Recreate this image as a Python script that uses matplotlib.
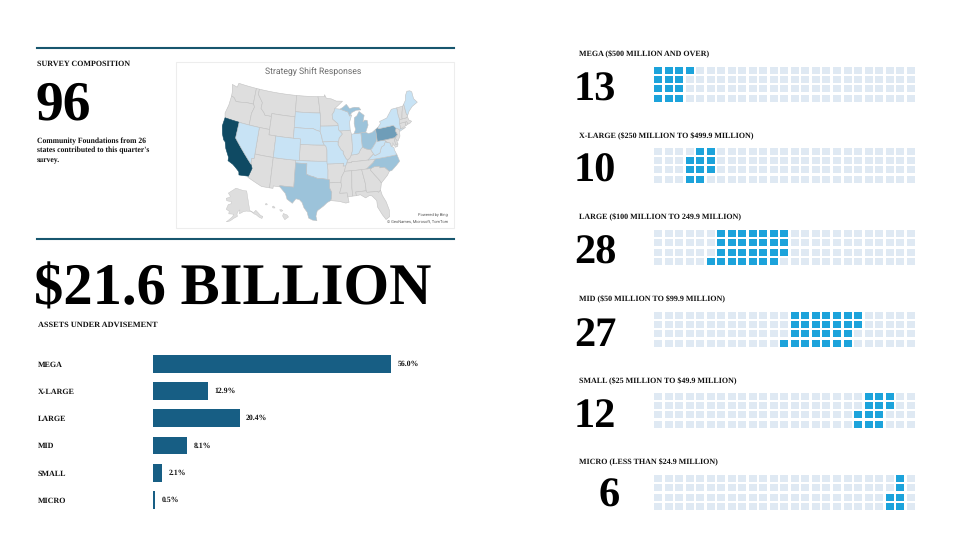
import numpy as np
import matplotlib
matplotlib.use("Agg")
import matplotlib.pyplot as plt
from matplotlib.patches import Rectangle, Polygon

plt.rcParams['font.family'] = ['Liberation Serif', 'DejaVu Serif']
plt.rcParams['text.hinting'] = 'no_hinting'

# ---- data ----
size_names = ["MEGA", "X-LARGE", "LARGE", "MID", "SMALL", "MICRO"]
asset_share = [56.0, 12.9, 20.4, 8.1, 2.1, 0.5]
asset_labels = ["56.0%", "12.9%", "20.4%", "8.1%", "2.1%", "0.5%"]
foundation_counts = [13, 10, 28, 27, 12, 6]
waffle_headings = [
    "MEGA ($500 MILLION AND OVER)",
    "X-LARGE ($250 MILLION TO $499.9 MILLION)",
    "LARGE ($100 MILLION TO 249.9 MILLION)",
    "MID ($50 MILLION TO $99.9 MILLION)",
    "SMALL ($25 MILLION TO $49.9 MILLION)",
    "MICRO (LESS THAN $24.9 MILLION)",
]
tier_dark = ["CA"]
tier_mid = ["PA"]
tier_light = ["TX", "OH", "MI", "MI2", "NC"]
tier_pale = ["NV", "CO", "SD", "NE", "IA", "MO", "OK", "WI", "IN", "NY", "ME", "VA", "WV"]

# State outlines as (lon, lat) vertices
states = {
"WA": [(-124.7,48.4),(-123,48.2),(-122.8,49),(-117.03,49),(-117.04,46.4),(-116.92,46),(-119,45.93),(-121.2,45.65),(-122.3,45.55),(-123.2,46.15),(-124,46.27),(-124.1,47)],
"OR": [(-124,46.27),(-123.2,46.15),(-122.3,45.55),(-121.2,45.65),(-119,45.93),(-116.92,46),(-116.5,45.5),(-117.03,44.2),(-117.03,42),(-124.2,42),(-124.55,42.85),(-124.1,44.5)],
"CA": [(-124.2,42),(-120,42),(-120,39),(-114.63,35),(-114.14,34.3),(-114.72,32.72),(-117.12,32.53),(-117.3,33.1),(-118.4,33.75),(-119.2,34.15),(-120.6,34.55),(-120.65,35.15),(-121.9,36.6),(-122.5,37.75),(-123,38),(-123.75,39),(-124.35,40.4)],
"NV": [(-120,42),(-114.04,42),(-114.04,36.2),(-114.7,36.1),(-114.63,35),(-120,39)],
"ID": [(-117.03,49),(-116.05,49),(-116.05,48),(-114.4,46.65),(-114.5,45.55),(-113.45,44.9),(-113,44.45),(-111.05,44.48),(-111.05,42),(-117.03,42),(-117.03,44.2),(-116.5,45.5),(-116.92,46),(-117.04,46.4)],
"MT": [(-116.05,49),(-104.05,49),(-104.05,45),(-111.05,45),(-111.05,44.48),(-113,44.45),(-113.45,44.9),(-114.5,45.55),(-114.4,46.65),(-116.05,48)],
"WY": [(-111.05,45),(-104.05,45),(-104.05,41),(-111.05,41)],
"UT": [(-114.04,42),(-111.05,42),(-111.05,41),(-109.05,41),(-109.05,37),(-114.04,37)],
"AZ": [(-114.04,37),(-109.05,37),(-109.05,31.33),(-111.07,31.33),(-114.81,32.5),(-114.72,32.72),(-114.14,34.3),(-114.63,35),(-114.7,36.1),(-114.04,36.2)],
"CO": [(-109.05,41),(-102.05,41),(-102.05,37),(-109.05,37)],
"NM": [(-109.05,37),(-103,37),(-103.05,32),(-106.62,32),(-106.53,31.78),(-108.2,31.78),(-108.2,31.33),(-109.05,31.33)],
"ND": [(-104.05,49),(-97.23,49),(-96.85,47.5),(-96.56,45.94),(-104.05,45.94)],
"SD": [(-104.05,45.94),(-96.56,45.94),(-96.45,45.3),(-96.45,43.5),(-96.5,42.5),(-97.9,42.8),(-98.5,43),(-104.05,43)],
"NE": [(-104.05,43),(-98.5,43),(-97.9,42.8),(-96.5,42.5),(-96.1,41.7),(-95.85,40.7),(-95.3,40),(-102.05,40),(-102.05,41),(-104.05,41)],
"KS": [(-102.05,40),(-95.3,40),(-94.9,39.8),(-94.6,39.1),(-94.62,37),(-102.05,37)],
"OK": [(-103,37),(-94.62,37),(-94.43,35.4),(-94.48,33.64),(-96,33.8),(-97.2,33.85),(-98.1,34.1),(-99.2,34.3),(-100,34.56),(-100,36.5),(-103,36.5)],
"TX": [(-103,36.5),(-100,36.5),(-100,34.56),(-99.2,34.3),(-98.1,34.1),(-97.2,33.85),(-96,33.8),(-94.48,33.64),(-94.04,33.55),(-94.04,32),(-93.55,31.2),(-93.7,30.1),(-93.85,29.7),(-94.7,29.35),(-95.6,28.7),(-97.1,27.8),(-97.4,26.8),(-97.15,25.95),(-98.2,26.05),(-99.1,26.4),(-99.5,27.5),(-100.3,28.3),(-100.8,29.25),(-101.5,29.77),(-102.35,29.87),(-103.15,28.98),(-104.5,29.65),(-105,30.65),(-106.53,31.78),(-106.62,32),(-103.05,32)],
"MN": [(-97.23,49),(-95.15,49),(-95.15,49.38),(-94.6,48.72),(-93,48.55),(-91.5,48.1),(-89.5,48),(-92.05,46.7),(-92.3,46.1),(-92.9,45.6),(-92.75,44.75),(-91.25,43.85),(-91.22,43.5),(-96.45,43.5),(-96.45,45.3),(-96.56,45.94),(-96.85,47.5)],
"IA": [(-96.45,43.5),(-91.22,43.5),(-91.1,42.7),(-90.15,41.9),(-91.1,41.2),(-91.42,40.38),(-91.75,40.6),(-95.75,40.58),(-96.1,41.7),(-96.5,42.5)],
"MO": [(-95.75,40.58),(-91.75,40.6),(-91.42,40.38),(-91.5,40),(-90.7,39),(-90.15,38.7),(-90.2,38.3),(-89.5,37.3),(-89.1,37),(-89.4,36.5),(-89.7,36),(-90.37,36),(-90.15,36.5),(-94.62,36.5),(-94.62,37),(-94.6,39.1),(-94.9,39.8),(-95.3,40)],
"AR": [(-94.62,36.5),(-90.15,36.5),(-90.37,36),(-89.7,36),(-90.1,35),(-91,33.9),(-91.15,33),(-94.04,33),(-94.04,33.55),(-94.48,33.64),(-94.43,35.4)],
"LA": [(-94.04,33),(-91.15,33),(-91,32.4),(-91.6,31),(-89.75,31),(-89.6,30.2),(-89.4,29.2),(-90.2,29.1),(-91.8,29.5),(-93.85,29.7),(-93.7,30.1),(-93.55,31.2),(-94.04,32)],
"WI": [(-92.05,46.7),(-90.4,46.55),(-88.1,45.9),(-87.6,45.1),(-87,45.3),(-87.8,44),(-87.8,42.5),(-90.65,42.5),(-91.1,42.7),(-91.22,43.5),(-91.25,43.85),(-92.75,44.75),(-92.9,45.6),(-92.3,46.1)],
"IL": [(-90.65,42.5),(-87.8,42.5),(-87.5,41.7),(-87.53,39.35),(-87.6,38.7),(-88,37.9),(-88.4,37.4),(-89.1,37),(-89.5,37.3),(-90.2,38.3),(-90.15,38.7),(-90.7,39),(-91.5,40),(-91.42,40.38),(-91.1,41.2),(-90.15,41.9)],
"IN": [(-87.5,41.7),(-86.8,41.76),(-84.8,41.76),(-84.82,39.1),(-85.4,38.7),(-86,38),(-87,37.9),(-88,37.9),(-87.6,38.7),(-87.53,39.35)],
"MI": [(-86.8,41.76),(-84.8,41.76),(-83.45,41.73),(-83.1,42.2),(-82.5,43),(-82.6,43.9),(-83.3,44),(-83.9,43.7),(-83.3,44.9),(-84.7,45.75),(-85.5,45),(-86.3,44.7),(-86.5,43.6),(-86.25,42.5)],
"MI2": [(-90.4,46.55),(-88.1,45.9),(-87.6,45.1),(-87,45.7),(-85.5,46.05),(-84.1,46),(-84.6,46.5),(-86,46.65),(-87.5,46.5),(-88.4,47.35),(-89.5,46.85)],
"OH": [(-84.8,41.76),(-83.45,41.73),(-82.7,41.45),(-81.7,41.5),(-80.52,41.98),(-80.52,40.64),(-80.85,39.7),(-81.7,39),(-82.2,38.6),(-82.6,38.42),(-83.7,38.65),(-84.82,39.1)],
"KY": [(-89.4,36.5),(-89.1,37),(-88.4,37.4),(-88,37.9),(-87,37.9),(-86,38),(-85.4,38.7),(-84.82,39.1),(-83.7,38.65),(-82.6,38.42),(-82,37.55),(-83.68,36.6),(-88.07,36.65),(-88.07,36.5)],
"TN": [(-90.1,35),(-89.7,36),(-89.4,36.5),(-88.07,36.5),(-88.07,36.65),(-83.68,36.6),(-81.68,36.59),(-82.4,36),(-84.3,35)],
"MS": [(-91.15,33),(-91,33.9),(-90.1,35),(-88.2,35),(-88.47,31.9),(-88.4,30.3),(-89.6,30.2),(-89.75,31),(-91.6,31),(-91,32.4)],
"AL": [(-88.2,35),(-85.6,35),(-85,32.3),(-85,31),(-87.6,31),(-87.5,30.3),(-88.4,30.3),(-88.47,31.9)],
"GA": [(-85.6,35),(-83.1,35),(-83.35,34.7),(-81.4,32.6),(-81,32),(-81.45,30.7),(-82.05,30.36),(-82.2,30.57),(-84.86,30.7),(-85,31),(-85,32.3)],
"FL": [(-87.6,31),(-85,31),(-84.86,30.7),(-82.2,30.57),(-82.05,30.36),(-81.45,30.7),(-81.2,29.7),(-80.5,28.4),(-80.05,26.8),(-80.2,25.5),(-81.1,25.1),(-81.8,26.1),(-82.7,27.7),(-82.7,28.9),(-83.7,29.9),(-84.3,30.05),(-85.3,29.7),(-86.5,30.4),(-87.5,30.3)],
"SC": [(-83.1,35),(-82.3,35.2),(-81,35.15),(-80.8,34.82),(-79.67,34.8),(-78.55,33.86),(-79.2,33.2),(-81,32),(-81.4,32.6),(-83.35,34.7)],
"NC": [(-84.3,35),(-82.4,36),(-81.68,36.59),(-75.87,36.55),(-75.5,35.25),(-76.5,34.65),(-77.9,33.9),(-78.55,33.86),(-79.67,34.8),(-80.8,34.82),(-81,35.15),(-82.3,35.2),(-83.1,35)],
"VA": [(-83.68,36.6),(-81.68,36.59),(-75.87,36.55),(-76.3,37.5),(-76.3,38),(-77,38.3),(-77.05,38.85),(-77.5,39.1),(-77.83,39.13),(-78.35,39.4),(-78.87,38.77),(-79.65,38.55),(-80.3,37.5),(-81.68,37.2),(-82,37.55)],
"WV": [(-82.6,38.42),(-82,37.55),(-81.68,37.2),(-80.3,37.5),(-79.65,38.55),(-78.87,38.77),(-78.35,39.4),(-77.83,39.13),(-78.4,39.6),(-79.48,39.72),(-80.52,39.72),(-80.52,40.64),(-80.85,39.7),(-81.7,39),(-82.2,38.6)],
"MD": [(-79.48,39.72),(-75.79,39.72),(-75.7,38.46),(-75.05,38.45),(-75.25,38.03),(-75.9,37.95),(-76.4,38.9),(-76.45,38.3),(-77,38.3),(-77.05,38.85),(-77.5,39.1),(-77.83,39.13),(-78.4,39.6)],
"DE": [(-75.79,39.72),(-75.4,39.8),(-75.05,38.45),(-75.7,38.46)],
"PA": [(-80.52,41.98),(-79.76,42.27),(-79.76,42),(-75.35,42),(-74.7,41.36),(-75.1,40.95),(-74.72,40.15),(-75.4,39.8),(-75.79,39.72),(-80.52,39.72)],
"NJ": [(-74.7,41.36),(-73.9,41),(-74,40.45),(-74.1,39.75),(-74.9,38.95),(-75.5,39.5),(-74.72,40.15),(-75.1,40.95)],
"NY": [(-79.76,42.27),(-78.9,42.85),(-79.05,43.27),(-76.8,43.63),(-76.2,44.1),(-75,45),(-73.35,45),(-73.4,43.6),(-73.25,42.75),(-73.5,42.05),(-73.5,41.3),(-73.65,41),(-72,41.05),(-73.9,40.6),(-73.9,41),(-74.7,41.36),(-75.35,42),(-79.76,42)],
"CT": [(-73.5,42.05),(-71.8,42.02),(-71.85,41.32),(-73.65,41),(-73.5,41.3)],
"RI": [(-71.8,42.02),(-71.38,42.02),(-71.15,41.5),(-71.85,41.32)],
"MA": [(-73.25,42.75),(-71.3,42.7),(-70.85,42.88),(-70.7,42.2),(-70,41.8),(-70.6,41.55),(-71.15,41.5),(-71.38,42.02),(-71.8,42.02),(-73.5,42.05)],
"VT": [(-73.35,45),(-71.5,45),(-72.05,44),(-72.45,43),(-72.46,42.73),(-73.25,42.75),(-73.4,43.6)],
"NH": [(-71.5,45),(-71.08,45.3),(-70.98,43.4),(-70.7,43.07),(-70.85,42.88),(-71.3,42.7),(-72.46,42.73),(-72.45,43),(-72.05,44)],
"ME": [(-71.08,45.3),(-70.3,45.9),(-70,46.7),(-69.2,47.45),(-68.3,47.35),(-67.8,47.05),(-67.8,45.7),(-67,44.85),(-68.8,44.4),(-70,43.75),(-70.7,43.07),(-70.98,43.4)],
}
alaska = [(-141,69.6),(-141,60.3),(-139.7,59.7),(-137.5,58.9),(-135,59.7),(-133.5,58.4),(-131.8,56.6),(-130,55.9),(-131.5,55.1),(-133.4,56),(-135.5,57.5),(-137.5,58.3),(-140,59.7),(-144.5,60.2),(-147.9,60),(-149.8,59.5),(-151.8,59.2),(-151,61),(-152.9,60.3),(-154,59),(-153.5,57.9),(-156.5,57),(-160,55.5),(-163.3,54.7),(-161,56),(-158,57.7),(-157.2,58.8),(-159.5,58.8),(-162,58.7),(-162,60),(-165.3,60.6),(-164,63),(-161,63.6),(-161,64.6),(-166.5,64.6),(-168,65.6),(-164,66.5),(-163,67),(-166.5,68.3),(-163,69.5),(-156.5,71.3),(-152,70.8),(-146,70.1)]
hawaii = [
    [(-155.9,20.2),(-155.1,19.9),(-154.8,19.5),(-155.6,18.95),(-156.05,19.7)],
    [(-156.7,20.95),(-156.25,20.95),(-156,20.75),(-156.4,20.6)],
    [(-158.25,21.55),(-157.95,21.7),(-157.65,21.3),(-158.1,21.3)],
    [(-159.75,22.1),(-159.4,22.2),(-159.3,21.95),(-159.6,21.9)],
]

# ---- helpers ----
W, H = 960, 540
fig = plt.figure(figsize=(9.6, 5.4), dpi=100, facecolor='white')

def axes_px(x0, y0, x1, y1, **kw):
    return fig.add_axes([x0 / W, 1 - y1 / H, (x1 - x0) / W, (y1 - y0) / H], **kw)

def text_px(x, y, s, **kw):
    kw.setdefault('va', 'center')
    kw.setdefault('fontweight', 'bold')
    kw.setdefault('color', '#111111')
    return fig.text(x / W, 1 - y / H, s, parse_math=False, **kw)

def rule(y):
    fig.add_artist(plt.Line2D([37 / W, 454 / W], [1 - y / H] * 2, color='#17566E', lw=1.5))

def albers(pts, lon0=-96.0, lat0=37.5, p1=29.5, p2=45.5):
    p = np.asarray(pts, float)
    lon = np.radians(p[:, 0]); lat = np.radians(p[:, 1])
    l0, f0, f1, f2 = map(np.radians, (lon0, lat0, p1, p2))
    n = (np.sin(f1) + np.sin(f2)) / 2
    c = np.cos(f1) ** 2 + 2 * n * np.sin(f1)
    rho = np.sqrt(c - 2 * n * np.sin(lat)) / n
    rho0 = np.sqrt(c - 2 * n * np.sin(f0)) / n
    th = n * (lon - l0)
    return np.column_stack([rho * np.sin(th), rho0 - rho * np.cos(th)])

def densify(pts):
    out = []
    closed = list(pts) + [pts[0]]
    for a, b in zip(closed[:-1], closed[1:]):
        k = max(1, int(max(abs(a[0] - b[0]), abs(a[1] - b[1]))))
        for t in np.arange(k) / k:
            out.append((a[0] + (b[0] - a[0]) * t, a[1] + (b[1] - a[1]) * t))
    return out

LABEL_FS = 5.8

# ---- left column ----
rule(47.5)
rule(239)
text_px(37, 64, "SURVEY COMPOSITION", fontsize=LABEL_FS)
text_px(35, 106, "96", fontsize=40, color='black')
for yy, line in zip([141, 150.5, 160], ["Community Foundations from 26",
                                        "states contributed to this quarter's",
                                        "survey."]):
    text_px(37, yy, line, fontsize=5.5)
text_px(34, 290, "$21.6 BILLION", fontsize=42.2, color='black')
text_px(38, 325, "ASSETS UNDER ADVISEMENT", fontsize=5.95)

# map card
fig.add_artist(Rectangle((175.5 / W, 1 - 227.5 / H), 278 / W, 166 / H, transform=fig.transFigure,
                         fc='white', ec='#EDEDED', lw=0.8, zorder=-1))
text_px(313, 72, "Strategy Shift Responses", family='Roboto',
        fontweight='normal', fontsize=6.2, color='#6B6B6B', ha='center')
text_px(448, 214.5, "Powered by Bing", family='Roboto', fontweight='normal', fontsize=2.9,
        color='#555555', ha='right')
text_px(448, 221, "© GeoNames, Microsoft, TomTom", family='Roboto', fontweight='normal', fontsize=2.9,
        color='#555555', ha='right')

GREY, EDGE = '#DEDEDE', '#C2C2C2'
fills = {}
for tier, col in [(tier_dark, '#0F4A63'), (tier_mid, '#6F9DB8'), (tier_light, '#9CC3DA'), (tier_pale, '#C8E3F5')]:
    for s in tier:
        fills[s] = col

projected = {k: albers(densify(v)) for k, v in states.items()}
allpts = np.vstack(list(projected.values()))
map_ax = axes_px(222.3, 83.3, 417.3, 220.7)
map_ax.set_xlim(allpts[:, 0].min(), allpts[:, 0].max())
map_ax.set_ylim(allpts[:, 1].min(), allpts[:, 1].max())
map_ax.axis('off')
for k, xy in projected.items():
    if k not in fills:
        map_ax.add_patch(Polygon(xy, closed=True, fc=GREY, ec=EDGE, lw=0.4, clip_on=False))
for k, xy in projected.items():
    if k in fills:
        map_ax.add_patch(Polygon(xy, closed=True, fc=fills[k], ec=EDGE if k != 'CA' else '#0F4A63',
                                 lw=0.4, clip_on=False))

ak_ax = axes_px(226, 188, 263, 222)
ak_xy = albers(densify(alaska), lon0=-152, lat0=63, p1=55, p2=65)
ak_ax.set_xlim(ak_xy[:, 0].min(), ak_xy[:, 0].max())
ak_ax.set_ylim(ak_xy[:, 1].min(), ak_xy[:, 1].max())
ak_ax.axis('off')
ak_ax.add_patch(Polygon(ak_xy, closed=True, fc=GREY, ec=EDGE, lw=0.3))

hi_ax = axes_px(264, 203, 289, 220)
hi_ax.set_xlim(-160, -154.7)
hi_ax.set_ylim(18.9, 22.3)
hi_ax.axis('off')
for isl in hawaii:
    hi_ax.add_patch(Polygon(isl, closed=True, fc=GREY, ec=EDGE, lw=0.3))

# bar chart (4.25 px per percentage point)
bar_ax = axes_px(153, 350.3, 453, 513.5)
bar_ax.barh(size_names, asset_share, height=0.654, color='#175E84')
bar_ax.set_xlim(0, 300 / 4.25)
bar_ax.set_ylim(5.5, -0.5)
for sp in bar_ax.spines.values():
    sp.set_visible(False)
bar_ax.xaxis.set_visible(False)
bar_ax.tick_params(axis='y', length=0, pad=115 * 0.72)
for lab in bar_ax.get_yticklabels():
    lab.set_ha('left')
    lab.set_fontsize(LABEL_FS)
    lab.set_fontweight('bold')
    lab.set_color('#111111')
for i, (v, s) in enumerate(zip(asset_share, asset_labels)):
    bar_ax.annotate(s, (v, i), xytext=(4.5, 0), textcoords='offset points', va='center',
                    fontsize=5.6, fontweight='bold', color='#111111')

# ---- right column: waffles ----
ON, OFF = '#1CA3DB', '#DFE9F3'
COLS, ROWS = 25, 4
head_y = [54.3, 136, 217, 299.3, 381, 462.3]
num_top = [71.7, 153, 235, 317.7, 398, 478]
grid_top = [66.7, 147.7, 230, 311.7, 392.7, 475]
num_x = [594.5, 594.5, 595.5, 595.5, 594.5, 609]
start = 0
for i, n in enumerate(foundation_counts):
    text_px(579, head_y[i], waffle_headings[i], fontsize=LABEL_FS)
    text_px(num_x[i], num_top[i] + 18.5, str(n), fontsize=30.5, color='black', ha='center')
    ax = axes_px(654, grid_top[i], 654 + COLS * 10.53, grid_top[i] + ROWS * 9.3)
    ax.set_xlim(0, COLS)
    ax.set_ylim(ROWS, 0)
    ax.axis('off')
    for c in range(COLS):
        for r in range(ROWS):
            idx = c * ROWS + r
            ax.add_patch(Rectangle((c, r), 0.76, 0.75, lw=0,
                                   fc=ON if start <= idx < start + n else OFF))
    start += n

fig.savefig('out.png', dpi=100, facecolor='white')
